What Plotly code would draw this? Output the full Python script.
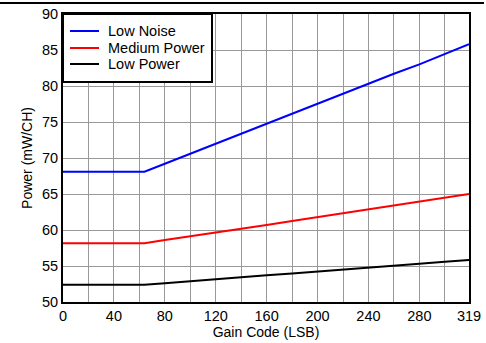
import plotly.graph_objects as go

gain_code = [0, 20, 40, 60, 64, 80, 100, 120, 140, 160, 180, 200, 220, 240, 260, 280, 300, 319]
low_noise = [68.1, 68.1, 68.1, 68.1, 68.1, 69.2, 70.6, 72.0, 73.3, 74.7, 76.1, 77.5, 78.9, 80.3, 81.7, 83.0, 84.4, 85.8]
medium_power = [58.15, 58.15, 58.15, 58.15, 58.15, 58.6, 59.1, 59.65, 60.2, 60.7, 61.25, 61.8, 62.3, 62.85, 63.4, 63.9, 64.5, 65.0]
low_power = [52.4, 52.4, 52.4, 52.4, 52.4, 52.6, 52.9, 53.15, 53.4, 53.7, 53.95, 54.2, 54.5, 54.75, 55.0, 55.3, 55.6, 55.85]

series_names = ["Low Noise", "Medium Power", "Low Power"]
series_colors = ["#0000ff", "#ff0000", "#000000"]

x_tickvals = [0, 20, 40, 60, 80, 100, 120, 140, 160, 180, 200, 220, 240, 260, 280, 300, 319]
x_ticktext = ["0", "", "40", "", "80", "", "120", "", "160", "", "200", "", "240", "", "280", "", "319"]
y_tickvals = [50, 55, 60, 65, 70, 75, 80, 85, 90]

W, H = 486, 343
ml, mr, mt, mb = 63, 17, 14, 41
pw = W - ml - mr
ph = H - mt - mb


def px_x(x):
    return (x - ml) / pw


def px_y(y):
    return 1 - (y - mt) / ph


fam = "Liberation Sans, Arial, sans-serif"
font = dict(family=fam, size=14.5, color="#000000")
tfont = dict(family=fam, size=14, color="#000000")

fig = go.Figure()
for name, vals, col in zip(series_names, [low_noise, medium_power, low_power], series_colors):
    fig.add_trace(go.Scatter(x=gain_code, y=vals, mode="lines", name=name,
                             line=dict(color=col, width=2), showlegend=False))

fig.update_layout(
    width=W, height=H,
    margin=dict(l=ml, r=mr, t=mt, b=mb, autoexpand=False),
    paper_bgcolor="white", plot_bgcolor="white",
    font=font,
    showlegend=False,
    xaxis=dict(range=[0, 319], tickvals=x_tickvals, ticktext=x_ticktext,
               showgrid=True, gridcolor="#999999", gridwidth=1,
               showline=True, linecolor="black", linewidth=2, mirror=True,
               ticks="", zeroline=False, automargin=False, tickfont=font,
               title=dict(text="Gain Code (LSB)", standoff=2, font=tfont)),
    yaxis=dict(range=[50, 90], tickvals=y_tickvals,
               showgrid=True, gridcolor="#999999", gridwidth=1,
               showline=True, linecolor="black", linewidth=2, mirror=True,
               ticks="", zeroline=False, automargin=False, tickfont=font,
               title=dict(text="Power (mW/CH)", standoff=6, font=tfont)),
)

# legend box
fig.add_shape(type="rect", xref="paper", yref="paper",
              x0=px_x(63), x1=px_x(212), y0=px_y(82), y1=px_y(14),
              fillcolor="white", line=dict(color="black", width=2), layer="above")
row_y = [31, 48, 64]
for name, col, ry in zip(series_names, series_colors, row_y):
    fig.add_shape(type="line", xref="paper", yref="paper",
                  x0=px_x(70), x1=px_x(99), y0=px_y(ry), y1=px_y(ry),
                  line=dict(color=col, width=2), layer="above")
    fig.add_annotation(xref="paper", yref="paper", x=px_x(106), y=px_y(ry),
                       xanchor="left", yanchor="middle", text=name, showarrow=False,
                       font=font)

# top border line
fig.add_shape(type="line", xref="paper", yref="paper", x0=px_x(0), x1=px_x(W - 2),
              y0=px_y(3), y1=px_y(3), line=dict(color="black", width=2), layer="above")

fig.write_html("out.html", config={"displayModeBar": False},
               post_script="document.body.style.margin='0';document.body.style.overflow='hidden';"
                           "document.documentElement.style.overflow='hidden';")
